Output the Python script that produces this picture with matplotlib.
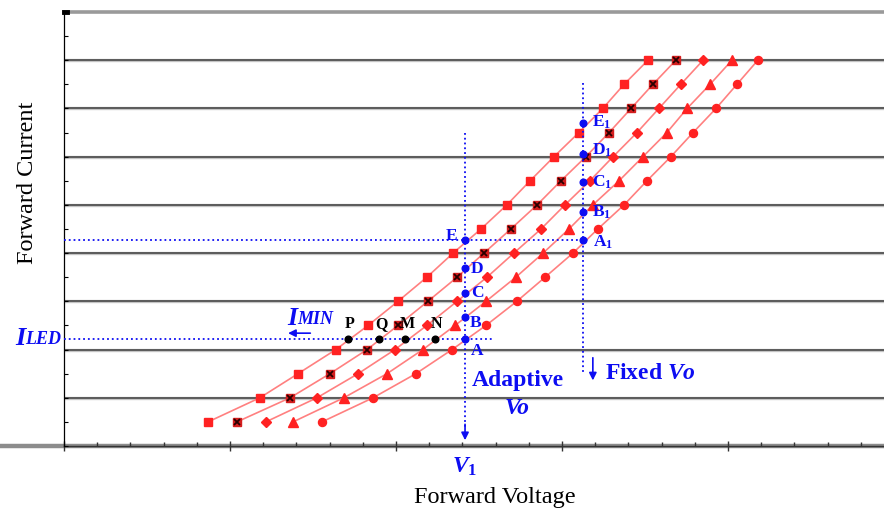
import numpy as np
import matplotlib
matplotlib.use('Agg')
import matplotlib.pyplot as plt
from matplotlib.ticker import MultipleLocator

plt.rcParams['font.family'] = ['Liberation Serif', 'DejaVu Serif']
plt.rcParams['mathtext.fontset'] = 'custom'
plt.rcParams['mathtext.rm'] = 'Liberation Serif'
plt.rcParams['mathtext.it'] = 'Liberation Serif:italic'
plt.rcParams['mathtext.bf'] = 'Liberation Serif:bold'
plt.rcParams['mathtext.bfit'] = 'Liberation Serif:italic:bold'

# forward current levels of the measured points (grid units)
current = [0.5, 1.0, 1.5, 2.0, 2.5, 3.0, 3.5, 4.0,
           4.5, 5.0, 5.5, 6.0, 6.5, 7.0, 7.5, 8.0]
# forward voltage of each LED string (minor-tick units)
v_square = [4.34, 5.90, 7.05, 8.19, 9.16, 10.06, 10.93, 11.72,
            12.56, 13.34, 14.04, 14.76, 15.51, 16.23, 16.87, 17.59]
v_xsquare = [5.21, 6.81, 8.01, 9.13, 10.06, 10.96, 11.84, 12.65,
             13.46, 14.25, 14.97, 15.72, 16.42, 17.08, 17.74, 18.43]
v_diamond = [6.08, 7.62, 8.86, 9.97, 10.93, 11.84, 12.74, 13.55,
             14.37, 15.09, 15.84, 16.54, 17.26, 17.92, 18.58, 19.25]
v_triangle = [6.90, 8.43, 9.73, 10.81, 11.78, 12.71, 13.61, 14.43,
              15.21, 15.93, 16.72, 17.44, 18.16, 18.77, 19.46, 20.12]
v_circle = [7.77, 9.31, 10.60, 11.69, 12.71, 13.64, 14.49, 15.33,
            16.08, 16.87, 17.56, 18.28, 18.95, 19.64, 20.27, 20.90]

# operating points
v1 = 12.08
v_fixed = 15.63
i_led = 2.215
adaptive_names = ['A', 'B', 'C', 'D', 'E']
i_adaptive = [2.215, 2.67, 3.17, 3.69, 4.27]
fixed_names = ['A', 'B', 'C', 'D', 'E']
i_fixed = [4.27, 4.85, 5.47, 6.05, 6.69]
imin_names = ['P', 'Q', 'M', 'N']
v_imin = [8.55, 9.49, 10.27, 11.17]

BLUE = '#0d0df2'
RED = '#ff2222'
LINE = '#ff8080'

fig = plt.figure(figsize=(8.84, 5.12), dpi=100)
ax = fig.add_axes([64 / 884, 66 / 512, 820 / 884, 434 / 512])
ax.set_xlim(0, 24.7)
ax.set_ylim(0, 9)

# horizontal grid lines
for y in range(1, 9):
    ax.axhline(y, color='#c4c4c4', lw=2.4, zorder=1)
    ax.axhline(y, color='#3e3e3e', lw=1.1, zorder=1.1)
ax.axhline(9, color='#9a9a9a', lw=2.6, zorder=1, clip_on=False)
ax.plot([-1.95, 24.7], [0, 0], color='#8c8c8c', lw=3.2, clip_on=False, zorder=1)
ax.plot([0, 24.7], [0, 0], color='#333333', lw=1.0, clip_on=False, zorder=1.1)
ax.plot([0, 0.1], [9, 9], color='black', lw=3.5, clip_on=False, zorder=2)

for s in ['top', 'right', 'bottom']:
    ax.spines[s].set_visible(False)
ax.spines['left'].set_color('black')
ax.spines['left'].set_linewidth(0.9)

ax.xaxis.set_major_locator(MultipleLocator(5))
ax.xaxis.set_minor_locator(MultipleLocator(1))
ax.yaxis.set_major_locator(MultipleLocator(1))
ax.yaxis.set_minor_locator(MultipleLocator(0.5))
ax.tick_params(axis='x', which='major', direction='inout', length=7, width=1,
               color='#333333', labelbottom=False)
ax.tick_params(axis='x', which='minor', direction='in', length=3, width=1,
               color='#333333')
ax.tick_params(axis='y', which='both', direction='in', length=3, width=0.8,
               color='black', labelleft=False)

# LED I-V curves
series = [(v_square, 's', 6.0), (v_xsquare, 's', 6.0), (v_diamond, 'D', 4.8),
          (v_triangle, '^', 6.6), (v_circle, 'o', 5.8)]
for v, m, ms in series:
    ax.plot(v, current, color=LINE, lw=1.2, zorder=3)
for i, (v, m, ms) in enumerate(series):
    face = '#d41e1e' if i == 1 else RED
    ax.plot(v, current, ls='none', marker=m, ms=ms, color=face, mec=face, zorder=4)
ax.plot(v_xsquare, current, ls='none', marker='x', ms=4.0, mew=1.3,
        color='#2a0000', zorder=5)

# guide lines
dot = dict(color=BLUE, ls=':', lw=1.3, zorder=6)
ax.plot([0, 12.89], [i_led, i_led], **dot)
ax.plot([0, 15.78], [i_adaptive[-1], i_adaptive[-1]], **dot)
ax.plot([v1, v1], [6.49, 0.4], **dot)
ax.plot([v_fixed, v_fixed], [7.52, 1.53], **dot)
arrow = dict(arrowstyle='-|>', color=BLUE, lw=1.2, mutation_scale=11,
             shrinkA=0, shrinkB=0)
ax.annotate('', xy=(v1, 0.12), xytext=(v1, 0.45), arrowprops=arrow, zorder=6)
ax.annotate('', xy=(15.93, 1.36), xytext=(15.93, 1.83), arrowprops=arrow, zorder=6)
ax.annotate('', xy=(6.75, 2.34), xytext=(7.42, 2.34), arrowprops=arrow, zorder=6)

# operating points
ax.plot([v1] * 5, i_adaptive, 'o', color=BLUE, ms=4.8, zorder=7)
ax.plot([v_fixed] * 5, i_fixed, 'o', color=BLUE, ms=4.8, zorder=7)
ax.plot(v_imin, [i_led] * 4, 'o', color='black', ms=4.8, zorder=7)

lab = dict(textcoords='offset pixels', color=BLUE, fontsize=12.5,
           fontweight='bold', ha='center', va='center', zorder=8)
adaptive_offsets = [(12, -12), (10, -6), (12, 0), (12, -1), (-14, 4)]
for name, y, off in zip(adaptive_names, i_adaptive, adaptive_offsets):
    ax.annotate(name, (v1, y), xytext=off, **lab)
fixed_offsets = [(10, -2), (9, 0), (9, 0), (9, 4), (9, 1)]
for name, y, off in zip(fixed_names, i_fixed, fixed_offsets):
    ax.annotate(r'$\mathbf{%s}_\mathbf{1}$' % name, (v_fixed, y), xytext=off,
                textcoords='offset pixels', color=BLUE, fontsize=12.5,
                ha='left', va='center', zorder=8)
for name, x in zip(imin_names, v_imin):
    ax.annotate(name, (x, i_led), xytext=(2, 15), textcoords='offset pixels',
                color='black', fontsize=11.5, fontweight='bold', ha='center',
                va='center', zorder=8)

big = dict(color=BLUE, fontweight='bold', fontstyle='italic', va='baseline',
           clip_on=False, zorder=8)
t = ax.text(-1.48, 2.09, 'I', fontsize=19, **big)
ax.annotate('LED', xy=(1, 0), xycoords=t, xytext=(0, 2), textcoords='offset pixels',
            fontsize=13, color=BLUE, fontweight='bold', fontstyle='italic',
            va='bottom', ha='left', annotation_clip=False)
t = ax.text(6.72, 2.5, 'I', fontsize=18.5, **big)
ax.annotate('MIN', xy=(1, 0), xycoords=t, xytext=(0, 2), textcoords='offset pixels',
            fontsize=13, color=BLUE, fontweight='bold', fontstyle='italic',
            va='bottom', ha='left', annotation_clip=False)

ax.text(13.66, 1.36, 'Adaptive', color=BLUE, fontsize=17, fontweight='bold',
        ha='center', va='center', zorder=8)
ax.text(13.66, 0.78, 'Vo', color=BLUE, fontsize=17, fontweight='bold',
        fontstyle='italic', ha='center', va='center', zorder=8)
ax.text(17.65, 1.51, r'$\mathbf{Fixed}\ \mathbfit{Vo}$', color=BLUE, fontsize=17,
        ha='center', va='center', zorder=8)
ax.text(v1, -0.44, r'$\mathbfit{V}_{\mathbf{1}}$', color=BLUE, fontsize=17,
        ha='center', va='center', clip_on=False)

fig.text(495 / 884, 1 - 497 / 512, 'Forward Voltage', fontsize=17.5,
         ha='center', va='center')
fig.text(28 / 884, 1 - 183 / 512, 'Forward Current', fontsize=17.5,
         rotation=90, ha='center', va='center')

fig.savefig('out.png', dpi=100)
